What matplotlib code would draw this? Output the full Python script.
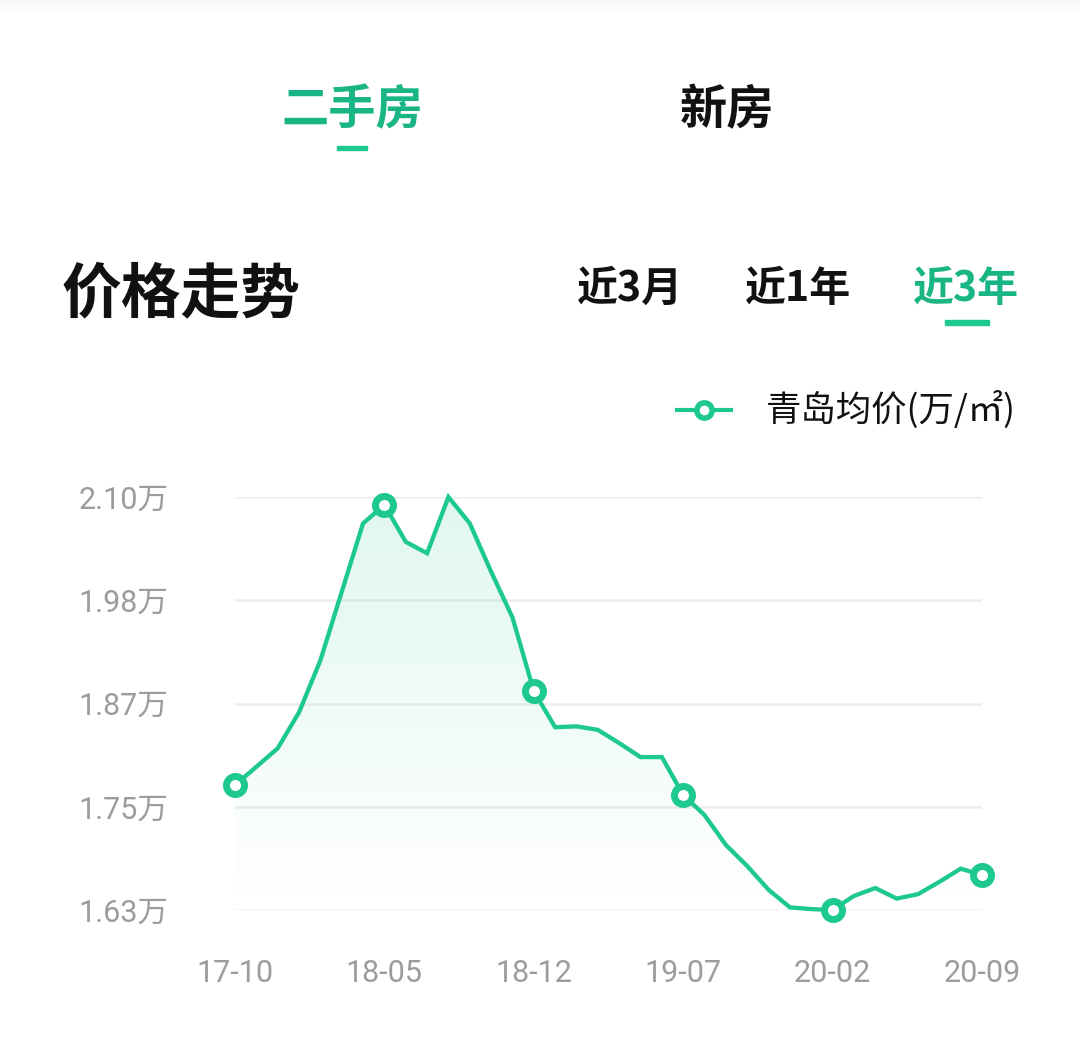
import matplotlib
matplotlib.use("Agg")
import matplotlib.pyplot as plt
import numpy as np
from matplotlib.patches import Polygon, Rectangle

plt.rcParams['font.family'] = ['Noto Sans CJK SC', 'DejaVu Sans']

# ---------------- data ----------------
months = ['17-10', '17-11', '17-12', '18-01', '18-02', '18-03', '18-04', '18-05', '18-06',
          '18-07', '18-08', '18-09', '18-10', '18-11', '18-12', '19-01', '19-02', '19-03',
          '19-04', '19-05', '19-06', '19-07', '19-08', '19-09', '19-10', '19-11', '19-12',
          '20-01', '20-02', '20-03', '20-04', '20-05', '20-06', '20-07', '20-08', '20-09']
prices = [1.772, 1.793, 1.814, 1.855, 1.914, 1.992, 2.070, 2.091, 2.049,
          2.036, 2.100, 2.070, 2.015, 1.963, 1.879, 1.838, 1.839, 1.835,
          1.820, 1.804, 1.804, 1.761, 1.738, 1.704, 1.680, 1.653, 1.633,
          1.631, 1.630, 1.646, 1.655, 1.643, 1.648, 1.662, 1.677, 1.670]
ytick_vals = [1.63, 1.7475, 1.865, 1.9825, 2.10]
ytick_labels = ['1.63万', '1.75万', '1.87万', '1.98万', '2.10万']
xtick_labels = ['17-10', '18-05', '18-12', '19-07', '20-02', '20-09']
series_name = '青岛均价(万/㎡)'
tabs = ['二手房', '新房']
ranges = ['近3月', '近1年', '近3年']
title = '价格走势'

GREEN = '#1ec98f'
GREEN_TXT = '#1ab584'
GRAY = '#9c9c9c'

W, H = 1080, 1062
fig = plt.figure(figsize=(W / 100, H / 100), dpi=100)
fig.patch.set_facecolor('white')

# faint top shadow
top = fig.add_axes([0, 1 - 16 / H, 1, 16 / H])
top.imshow(np.linspace(0.965, 1.0, 50).reshape(-1, 1), cmap='gray', vmin=0, vmax=1,
           aspect='auto', extent=[0, 1, 0, 1])
top.axis('off')

# ---------------- header texts ----------------
def fx(px):
    return px / W

def fy(py):
    return 1 - py / H

fig.text(fx(352), fy(110), tabs[0], color=GREEN_TXT, fontsize=34, fontweight='bold',
         ha='center', va='center')
fig.text(fx(727), fy(110), tabs[1], color='#111111', fontsize=34, fontweight='bold',
         ha='center', va='center')
fig.add_artist(Rectangle((fx(337), fy(150)), fx(30), 4 / H, color=GREEN,
                         transform=fig.transFigure))

fig.text(fx(62), fy(295), title, color='#111111', fontsize=43, fontweight='bold',
         ha='left', va='center')
rx = [630, 798, 966]
for i, r in enumerate(ranges):
    fig.text(fx(rx[i]), fy(289), r, color=GREEN_TXT if i == 2 else '#111111',
             fontsize=29.5, fontweight='bold', ha='center', va='center')
fig.add_artist(Rectangle((fx(945), fy(325)), fx(44), 5 / H, color=GREEN,
                         transform=fig.transFigure))

# ---------------- chart ----------------
ax = fig.add_axes([fx(235), fy(910), fx(747), 413 / H])
x = np.arange(len(prices))
y = np.array(prices)
ymin, ymax = ytick_vals[0], ytick_vals[-1]
ax.set_xlim(0, len(prices) - 1)
ax.set_ylim(ymin, ymax)

# gradient fill under the line
verts = [(0, ymin)] + list(zip(x, y)) + [(x[-1], ymin)]
poly = Polygon(verts, closed=True, facecolor='none', edgecolor='none')
ax.add_patch(poly)
grad = np.zeros((100, 2, 4))
c0 = np.array([0.118, 0.788, 0.561])
alpha = np.linspace(0.14, 0.0, 100).reshape(-1, 1)
grad[:, :, :3] = c0
grad[:, :, 3] = alpha
im = ax.imshow(grad, aspect='auto', extent=[0, len(prices) - 1, ymin, ymax],
               origin='upper', zorder=1, interpolation='bilinear')
im.set_clip_path(poly)

for v in ytick_vals:
    ax.axhline(v, color='#eeeeee', lw=1.8, zorder=0.5)

ax.plot(x, y, color=GREEN, lw=3.1, zorder=3, solid_joinstyle='miter', clip_on=False)
mk = list(range(0, len(prices), 7))
ax.plot(x[mk], y[mk], 'o', ms=13, mfc='white', mec=GREEN, mew=5, zorder=4, clip_on=False)

for s in ax.spines.values():
    s.set_visible(False)
ax.set_yticks(ytick_vals)
ax.set_yticklabels(ytick_labels)
ax.set_xticks(mk)
ax.set_xticklabels(xtick_labels)
ax.tick_params(length=0, colors=GRAY, labelsize=22)
ax.tick_params(axis='y', pad=48)
ax.tick_params(axis='x', pad=35)
for lab in ax.get_yticklabels() + ax.get_xticklabels():
    lab.set_fontfamily(['Roboto', 'Noto Sans CJK SC'])
    lab.set_color(GRAY)
for lab in ax.get_yticklabels():
    lab.set_horizontalalignment('right')
ax.set_facecolor('none')

# legend
leg_ax = fig.add_axes([fx(675), fy(425), fx(58), 30 / H])
leg_ax.set_xlim(0, 1)
leg_ax.set_ylim(0, 1)
leg_ax.plot([0, 1], [0.5, 0.5], color=GREEN, lw=3)
leg_ax.plot([0.5], [0.5], 'o', ms=11, mfc='white', mec=GREEN, mew=4)
leg_ax.axis('off')
fig.text(fx(766), fy(410), series_name, color='#111111', fontsize=25.5,
         ha='left', va='center')

fig.savefig('out.png', dpi=100, facecolor='white')
